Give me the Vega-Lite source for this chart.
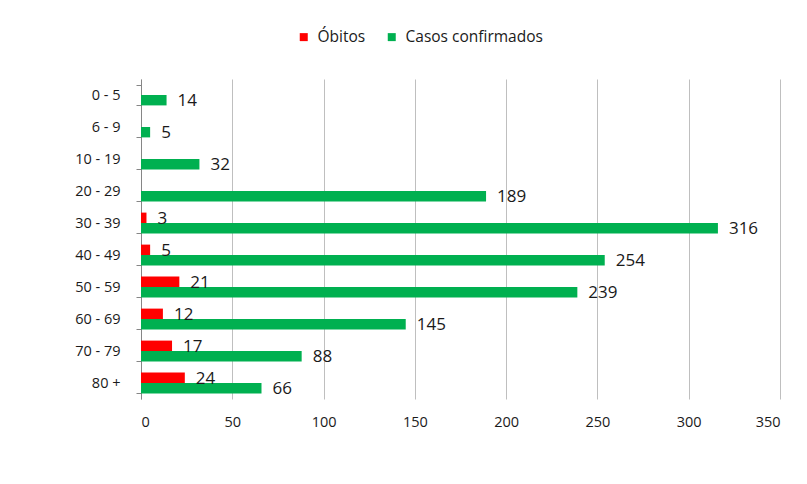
{
  "$schema": "https://vega.github.io/schema/vega-lite/v6.json",
  "autosize": {"type": "none"},
  "width": 639,
  "height": 320,
  "padding": {"left": 141, "top": 79, "right": 27, "bottom": 85},
  "background": "white",
  "data": {
    "values": [
      {"faixa": "0 - 5", "serie": "Óbitos", "valor": 0},
      {"faixa": "0 - 5", "serie": "Casos confirmados", "valor": 14},
      {"faixa": "6 - 9", "serie": "Óbitos", "valor": 0},
      {"faixa": "6 - 9", "serie": "Casos confirmados", "valor": 5},
      {"faixa": "10 - 19", "serie": "Óbitos", "valor": 0},
      {"faixa": "10 - 19", "serie": "Casos confirmados", "valor": 32},
      {"faixa": "20 - 29", "serie": "Óbitos", "valor": 0},
      {"faixa": "20 - 29", "serie": "Casos confirmados", "valor": 189},
      {"faixa": "30 - 39", "serie": "Óbitos", "valor": 3},
      {"faixa": "30 - 39", "serie": "Casos confirmados", "valor": 316},
      {"faixa": "40 - 49", "serie": "Óbitos", "valor": 5},
      {"faixa": "40 - 49", "serie": "Casos confirmados", "valor": 254},
      {"faixa": "50 - 59", "serie": "Óbitos", "valor": 21},
      {"faixa": "50 - 59", "serie": "Casos confirmados", "valor": 239},
      {"faixa": "60 - 69", "serie": "Óbitos", "valor": 12},
      {"faixa": "60 - 69", "serie": "Casos confirmados", "valor": 145},
      {"faixa": "70 - 79", "serie": "Óbitos", "valor": 17},
      {"faixa": "70 - 79", "serie": "Casos confirmados", "valor": 88},
      {"faixa": "80 +", "serie": "Óbitos", "valor": 24},
      {"faixa": "80 +", "serie": "Casos confirmados", "valor": 66}
    ]
  },
  "encoding": {
    "y": {
      "field": "faixa",
      "type": "nominal",
      "sort": ["0 - 5", "6 - 9", "10 - 19", "20 - 29", "30 - 39", "40 - 49", "50 - 59", "60 - 69", "70 - 79", "80 +"],
      "scale": {"paddingInner": 0.35, "paddingOuter": 0.175},
      "axis": {
        "title": null,
        "domain": true,
        "domainColor": "#868686",
        "ticks": true,
        "tickBand": "extent",
        "tickColor": "#868686",
        "tickSize": 5,
        "labelFont": "Open Sans",
        "labelFontSize": 14.5,
        "labelColor": "#1a1a1a",
        "labelPadding": 16,
        "grid": false
      }
    },
    "yOffset": {
      "field": "serie",
      "type": "nominal",
      "sort": ["Óbitos", "Casos confirmados"],
      "scale": {"paddingInner": 0, "paddingOuter": 0}
    },
    "x": {
      "field": "valor",
      "type": "quantitative",
      "scale": {"domain": [0, 350], "nice": false},
      "axis": {
        "title": null,
        "values": [0, 50, 100, 150, 200, 250, 300, 350],
        "domain": false,
        "ticks": false,
        "grid": true,
        "gridColor": "#BFBFBF",
        "gridWidth": 1,
        "labelFont": "Open Sans",
        "labelFontSize": 14.5,
        "labelColor": "#1a1a1a",
        "labelPadding": 16
      }
    }
  },
  "layer": [
    {
      "mark": {"type": "bar"},
      "encoding": {
        "color": {
          "field": "serie",
          "type": "nominal",
          "sort": ["Óbitos", "Casos confirmados"],
          "scale": {"domain": ["Óbitos", "Casos confirmados"], "range": ["#FF0000", "#00B050"]},
          "legend": {
            "title": null,
            "orient": "none",
            "legendX": 155,
            "legendY": -50,
            "direction": "horizontal",
            "symbolType": "square",
            "symbolSize": 64,
            "symbolStrokeWidth": 0,
            "labelFont": "Open Sans",
            "labelFontSize": 15.5,
            "labelColor": "#1a1a1a",
            "columnPadding": 18,
            "labelOffset": 6
          }
        }
      }
    },
    {
      "mark": {"type": "text", "align": "left", "baseline": "middle", "dx": 11, "dy": 1, "font": "Open Sans", "fontSize": 17, "color": "#1a1a1a"},
      "transform": [{"filter": "datum.valor > 0"}],
      "encoding": {"text": {"field": "valor", "type": "quantitative"}}
    }
  ],
  "config": {"view": {"stroke": null}}
}
